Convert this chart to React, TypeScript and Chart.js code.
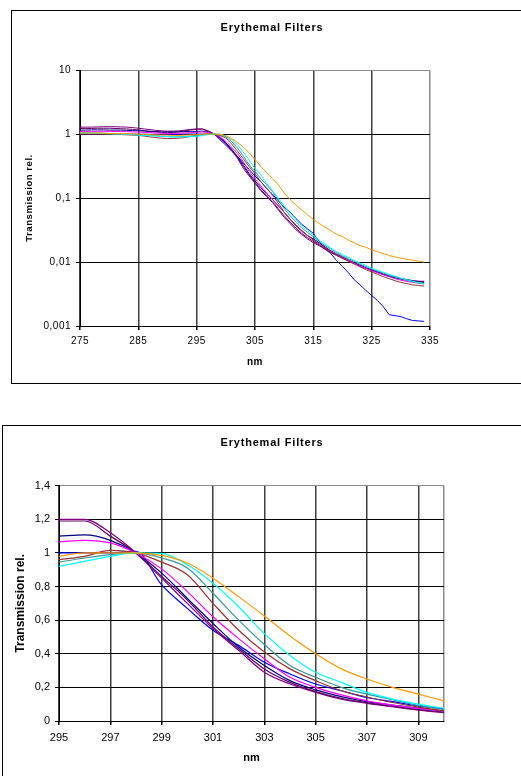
import React, { useEffect, useRef } from 'react';
import { Chart, registerables } from 'chart.js';

Chart.register(...registerables);

// ---------- data ----------
const wavelengths = [
  275, 276, 277, 278, 279, 280, 281, 282, 283, 284, 285, 286, 287, 288, 289, 290, 291, 292, 293, 294,
  295, 296, 297, 298, 299, 300, 301, 302, 303, 304, 305, 306, 307, 308, 309, 310,
  311, 312, 313, 314, 315, 316, 317, 318, 319, 320, 321, 322, 323, 324, 325, 326, 327, 328, 329, 330, 331, 332, 333, 334,
];

const filterOrange = [
  1.04, 1.04, 1.03, 1.03, 1.03, 1.02, 1.02, 1.02, 1.01, 1.0, 1.0, 0.99, 0.98, 0.97, 0.96, 0.96, 0.95, 0.95, 0.96, 0.97,
  0.98, 1.0, 1.0, 1.0, 0.985, 0.94, 0.85, 0.74, 0.625, 0.506, 0.4, 0.31, 0.25, 0.2, 0.16, 0.12,
  0.095, 0.078, 0.065, 0.055, 0.046, 0.04, 0.035, 0.031, 0.027, 0.025, 0.022, 0.02, 0.018, 0.017, 0.0155, 0.0145, 0.0135, 0.0127, 0.012, 0.0115, 0.011, 0.0107, 0.0103, 0.01,
];
const filterCyan = [
  1.03, 1.03, 1.02, 1.02, 1.02, 1.01, 1.0, 1.0, 0.99, 0.98, 0.96, 0.95, 0.94, 0.93, 0.92, 0.91, 0.9, 0.9, 0.9, 0.91,
  0.92, 0.95, 0.98, 1.0, 0.997, 0.93, 0.82, 0.68, 0.52, 0.39, 0.29, 0.23, 0.17, 0.13, 0.1, 0.075,
  0.058, 0.046, 0.037, 0.031, 0.026, 0.022, 0.019, 0.0165, 0.0145, 0.013, 0.0118, 0.0106, 0.0096, 0.0088, 0.008, 0.0074, 0.0069, 0.0064, 0.006, 0.0056, 0.0053, 0.005, 0.0048, 0.0046,
];
const filterTeal = [
  1.05, 1.05, 1.04, 1.04, 1.03, 1.02, 1.01, 1.0, 0.99, 0.98, 0.97, 0.96, 0.95, 0.94, 0.92, 0.91, 0.9, 0.91, 0.92, 0.93,
  0.945, 0.97, 0.99, 1.0, 0.97, 0.91, 0.76, 0.6, 0.455, 0.33, 0.26, 0.2, 0.16, 0.127, 0.093, 0.068,
  0.053, 0.042, 0.034, 0.029, 0.025, 0.021, 0.018, 0.016, 0.014, 0.0125, 0.0113, 0.0102, 0.0093, 0.0085, 0.0078, 0.0072, 0.0067, 0.0062, 0.0058, 0.0055, 0.0052, 0.0049, 0.0047, 0.0045,
];
const filterDarkRed = [
  1.0, 1.0, 1.0, 1.0, 0.99, 0.99, 0.98, 0.98, 0.97, 0.96, 0.95, 0.93, 0.9, 0.88, 0.86, 0.85, 0.85, 0.86, 0.88, 0.92,
  0.96, 0.98, 1.015, 1.0, 0.945, 0.87, 0.7, 0.54, 0.41, 0.31, 0.24, 0.18, 0.143, 0.11, 0.083, 0.06,
  0.047, 0.037, 0.031, 0.026, 0.022, 0.019, 0.0165, 0.0145, 0.013, 0.0115, 0.0103, 0.0093, 0.0084, 0.0076, 0.007, 0.0064, 0.0059, 0.0055, 0.0051, 0.0048, 0.0046, 0.0044, 0.0043, 0.0042,
];
const filterMagenta = [
  1.1, 1.1, 1.1, 1.1, 1.1, 1.1, 1.1, 1.09, 1.09, 1.08, 1.07, 1.06, 1.05, 1.04, 1.03, 1.02, 1.02, 1.03, 1.04, 1.05,
  1.066, 1.075, 1.06, 1.0, 0.905, 0.77, 0.62, 0.49, 0.37, 0.26, 0.2, 0.155, 0.12, 0.095, 0.075, 0.06,
  0.046, 0.037, 0.03, 0.026, 0.022, 0.019, 0.0166, 0.0147, 0.013, 0.0117, 0.0106, 0.0096, 0.0087, 0.008, 0.0073, 0.0068, 0.0063, 0.0059, 0.0055, 0.0052, 0.005, 0.0048, 0.0047, 0.0046,
];
const filterNavy = [
  1.15, 1.15, 1.16, 1.16, 1.16, 1.15, 1.15, 1.15, 1.14, 1.13, 1.12, 1.11, 1.1, 1.09, 1.08, 1.08, 1.08, 1.08, 1.09, 1.1,
  1.1, 1.107, 1.075, 1.0, 0.88, 0.73, 0.58, 0.44, 0.33, 0.24, 0.185, 0.145, 0.115, 0.095, 0.075, 0.06,
  0.047, 0.038, 0.031, 0.026, 0.023, 0.02, 0.0172, 0.015, 0.0133, 0.012, 0.0108, 0.0098, 0.0089, 0.0081, 0.0075, 0.0069, 0.0064, 0.006, 0.0057, 0.0054, 0.0052, 0.005, 0.0049, 0.0048,
];
const filterBlue = [
  1.0, 1.0, 1.0, 1.0, 1.0, 1.0, 1.0, 1.0, 1.0, 1.0, 0.99, 0.99, 0.99, 0.99, 0.99, 0.99, 0.99, 0.99, 1.0, 1.0,
  1.0, 1.0, 1.0, 1.01, 0.81, 0.67, 0.54, 0.45, 0.35, 0.28, 0.22, 0.18, 0.14, 0.115, 0.09, 0.072,
  0.06, 0.048, 0.039, 0.033, 0.028, 0.021, 0.016, 0.0135, 0.0105, 0.0085, 0.0068, 0.0053, 0.0044, 0.0036, 0.003, 0.0025, 0.002, 0.0015, 0.00145, 0.0014, 0.0013, 0.00122, 0.0012, 0.00118,
];
const filterPurple = [
  1.28, 1.28, 1.28, 1.29, 1.3, 1.3, 1.3, 1.29, 1.28, 1.26, 1.23, 1.2, 1.17, 1.14, 1.12, 1.11, 1.11, 1.12, 1.15, 1.18,
  1.2, 1.2, 1.12, 1.0, 0.85, 0.7, 0.55, 0.42, 0.29, 0.22, 0.17, 0.13, 0.105, 0.085, 0.065, 0.05,
  0.04, 0.032, 0.027, 0.023, 0.02, 0.018, 0.0158, 0.014, 0.0126, 0.0114, 0.0104, 0.0095, 0.0087, 0.008, 0.0074, 0.0069, 0.0064, 0.006, 0.0057, 0.0055, 0.0053, 0.0051, 0.005, 0.005,
];
const filterViolet = [
  1.22, 1.22, 1.22, 1.23, 1.23, 1.23, 1.22, 1.21, 1.2, 1.18, 1.16, 1.13, 1.1, 1.08, 1.06, 1.05, 1.06, 1.08, 1.12, 1.16,
  1.19, 1.19, 1.1, 1.0, 0.86, 0.72, 0.56, 0.43, 0.31, 0.23, 0.175, 0.135, 0.108, 0.087, 0.068, 0.053,
  0.042, 0.034, 0.028, 0.024, 0.021, 0.0185, 0.0162, 0.0143, 0.0128, 0.0116, 0.0105, 0.0096, 0.0088, 0.0081, 0.0075, 0.007, 0.0065, 0.0061, 0.0058, 0.0055, 0.0053, 0.0051, 0.005, 0.0049,
];

const seriesList = [
  filterOrange, filterCyan, filterTeal, filterDarkRed, filterMagenta,
  filterNavy, filterViolet, filterPurple, filterBlue,
];
const seriesColors = [
  '#FF9900', '#00FFFF', '#339999', '#993333', '#FF00FF',
  '#000080', '#660066', '#800080', '#0000FF',
];

const logTicks = [0.001, 0.01, 0.1, 1, 10];
const topXTicks = [275, 285, 295, 305, 315, 325, 335];
const linTicks = [0, 0.2, 0.4, 0.6, 0.8, 1.0, 1.2, 1.4];
const bottomXTicks = [295, 297, 299, 301, 303, 305, 307, 309, 310];

const chartTitle = 'Erythemal Filters';
const yTitle = 'Transmission rel.';
const xTitle = 'nm';

const FONT = 'Arial, "Liberation Sans", sans-serif';

const fmt = (v: number) => String(Math.round(v * 1000) / 1000).replace('.', ',');

// Title centred over the whole chart box (not just the plot area), plus optional letter spacing.
const boxTitlePlugin = {
  id: 'boxTitle',
  beforeDraw(chart: any, _args: any, opts: any) {
    if (opts && opts.spacing) chart.ctx.letterSpacing = opts.spacing;
  },
  afterDraw(chart: any, _args: any, opts: any) {
    const ctx = chart.ctx;
    ctx.save();
    ctx.letterSpacing = opts.titleSpacing || '0px';
    ctx.font = `bold ${opts.size}px ${FONT}`;
    ctx.fillStyle = '#000';
    ctx.textAlign = 'center';
    ctx.textBaseline = 'middle';
    ctx.fillText(opts.text, opts.x, opts.y);
    ctx.restore();
    ctx.letterSpacing = '0px';
  },
};

function buildTop() {
  return {
    type: 'line',
    plugins: [boxTitlePlugin],
    data: {
      datasets: seriesList.map((s, i) => ({
        data: wavelengths.map((x, j) => ({ x, y: s[j] })),
        borderColor: seriesColors[i],
        backgroundColor: seriesColors[i],
        borderWidth: 1,
        pointRadius: 0,
        tension: 0,
        fill: false,
      })),
    },
    options: {
      responsive: false,
      animation: false,
      layout: { padding: { left: 0, right: 91, top: 59, bottom: 0 } },
      plugins: {
        legend: { display: false },
        tooltip: { enabled: false },
        title: { display: false },
        boxTitle: { text: chartTitle, x: 260, y: 17, size: 11, titleSpacing: '0.8px', spacing: '0.5px' },
      },
      scales: {
        x: {
          type: 'linear',
          min: 275,
          max: 335,
          afterBuildTicks: (s: any) => { s.ticks = topXTicks.map((v) => ({ value: v })); },
          afterFit: (s: any) => { s.height = 57; },
          grid: {
            color: (c: any) => (c.tick && c.tick.value === 335 ? '#8c8c8c' : '#404040'),
            lineWidth: 1.5,
            tickLength: 4,
            tickColor: '#000',
          },
          border: { color: '#000', width: 1 },
          ticks: {
            color: '#000', font: { family: FONT, size: 10 }, padding: 5,
            maxRotation: 0, autoSkip: false, callback: (v: any) => String(v),
          },
          title: {
            display: true, text: xTitle, color: '#000',
            font: { family: FONT, size: 10, weight: 'bold' }, padding: { top: 0, bottom: 15 },
          },
        },
        y: {
          type: 'logarithmic',
          min: 0.001,
          max: 10,
          afterBuildTicks: (s: any) => { s.ticks = logTicks.map((v) => ({ value: v })); },
          afterFit: (s: any) => { s.width = 68; },
          grid: {
            color: (c: any) => (c.tick && c.tick.value === 10 ? '#8c8c8c' : '#000'),
            lineWidth: 1,
            tickLength: 4,
            tickColor: '#000',
          },
          border: { color: '#000', width: 1 },
          ticks: {
            color: '#000', font: { family: FONT, size: 10 }, padding: 5,
            autoSkip: false, callback: (v: any) => fmt(Number(v)),
          },
          title: {
            display: true, text: yTitle, color: '#000',
            font: { family: FONT, size: 9.6, weight: 'bold' }, padding: { top: 12, bottom: 0 },
          },
        },
      },
    },
  };
}

function buildBottom() {
  return {
    type: 'line',
    plugins: [boxTitlePlugin],
    data: {
      datasets: seriesList.map((s, i) => ({
        data: wavelengths
          .map((x, j) => ({ x, y: s[j] }))
          .filter((p) => p.x >= 295 && p.x <= 310),
        borderColor: seriesColors[i],
        backgroundColor: seriesColors[i],
        borderWidth: 1.2,
        pointRadius: 0,
        cubicInterpolationMode: 'monotone',
        fill: false,
      })),
    },
    options: {
      responsive: false,
      animation: false,
      layout: { padding: { left: 0, right: 77, top: 59.7, bottom: 0 } },
      plugins: {
        legend: { display: false },
        tooltip: { enabled: false },
        title: { display: false },
        boxTitle: { text: chartTitle, x: 269, y: 17, size: 11, titleSpacing: '0.8px' },
      },
      scales: {
        x: {
          type: 'linear',
          min: 295,
          max: 310,
          afterBuildTicks: (s: any) => { s.ticks = bottomXTicks.map((v) => ({ value: v })); },
          afterFit: (s: any) => { s.height = 55; },
          grid: {
            color: (c: any) => (c.tick && c.tick.value === 310 ? '#8c8c8c' : '#404040'),
            lineWidth: 1.5,
            tickLength: 4,
            tickColor: (c: any) => (c.tick && c.tick.value === 310 ? 'rgba(0,0,0,0)' : '#000'),
          },
          border: { color: '#000', width: 1 },
          ticks: {
            color: '#000', font: { family: FONT, size: 11 }, padding: 6,
            maxRotation: 0, autoSkip: false,
            callback: (v: any) => (Number(v) === 310 ? '' : String(v)),
          },
          title: {
            display: true, text: xTitle, color: '#000',
            font: { family: FONT, size: 11, weight: 'bold' }, padding: { top: 0, bottom: 11.4 },
          },
        },
        y: {
          type: 'linear',
          min: 0,
          max: 1.4,
          afterBuildTicks: (s: any) => { s.ticks = linTicks.map((v) => ({ value: v })); },
          afterFit: (s: any) => { s.width = 56; },
          grid: {
            color: (c: any) => (c.tick && Math.abs(c.tick.value - 1.4) < 1e-6 ? '#8c8c8c' : '#000'),
            lineWidth: 1,
            tickLength: 4,
            tickColor: '#000',
          },
          border: { color: '#000', width: 1 },
          ticks: {
            color: '#000', font: { family: FONT, size: 11 }, padding: 5,
            autoSkip: false, callback: (v: any) => fmt(Number(v)),
          },
          title: {
            display: true, text: yTitle, color: '#000',
            font: { family: FONT, size: 12, weight: 'bold' }, padding: { top: 10.8, bottom: 0 },
          },
        },
      },
    },
  };
}

function ChartBox(props: { build: () => any; width: number; height: number }) {
  const ref = useRef<HTMLCanvasElement | null>(null);
  useEffect(() => {
    if (!ref.current) return;
    const chart = new Chart(ref.current, props.build());
    return () => chart.destroy();
  }, []);
  return (
    <canvas
      ref={ref}
      width={props.width}
      height={props.height}
      style={{ display: 'block', width: props.width, height: props.height }}
    />
  );
}

export default function App() {
  return (
    <div>
      <div
        style={{
          position: 'absolute', left: 11, top: 10, width: 509, height: 372,
          borderTop: '1px solid #000', borderLeft: '1px solid #000', borderBottom: '1px solid #000',
          background: '#fff',
        }}
      >
        <ChartBox build={buildTop} width={509} height={372} />
      </div>
      <div
        style={{
          position: 'absolute', left: 2, top: 425, width: 518, height: 351,
          borderTop: '1px solid #000', borderLeft: '1px solid #000',
          background: '#fff',
        }}
      >
        <ChartBox build={buildBottom} width={518} height={350} />
      </div>
    </div>
  );
}
